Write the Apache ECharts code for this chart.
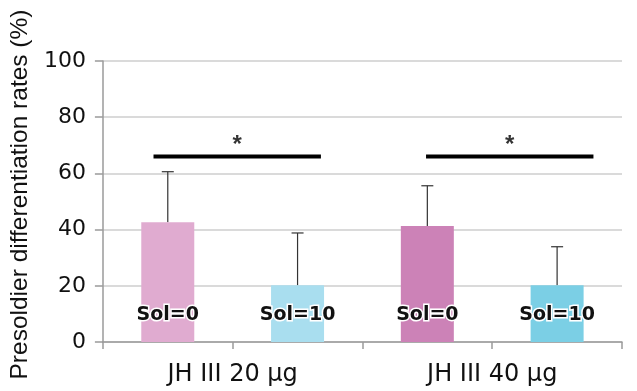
<!DOCTYPE html>
<html><head><meta charset="utf-8">
<script src="https://cdn.jsdelivr.net/npm/echarts@6/dist/echarts.min.js"></script>
<style>html,body{margin:0;padding:0;background:#fff}#c{width:637px;height:391px}</style>
</head><body><div id="c"></div>
<script>
var categories = ['Sol=0', 'Sol=10', 'Sol=0', 'Sol=10'];
var groupLabels = ['JH III 20 μg', 'JH III 40 μg'];
var means = [42.6, 20.2, 41.3, 20.2];
var upper = [60.6, 38.8, 55.6, 33.9];
var barColors = ['#e0abd0', '#a9deef', '#cc82b7', '#7bcfe5'];
var yTicks = [0, 20, 40, 60, 80, 100];
var sigLines = [[-0.11, 1.18, 66], [1.99, 3.28, 66]];
var stars = [[0.535, 69.8], [2.635, 69.8]];

var chart = echarts.init(document.getElementById('c'), null, {renderer: 'canvas'});
var series = [
  {
    type: 'bar', xAxisIndex: 0, yAxisIndex: 0, barWidth: 53,
    data: means.map(function (v, i) { return {value: v, itemStyle: {color: barColors[i]}}; }),
    label: {
      show: true, position: 'insideBottom', distance: 17,
      formatter: function (p) { return categories[p.dataIndex]; },
      fontFamily: 'DejaVu Sans', fontWeight: 'bold', fontSize: 19,
      color: '#111', textBorderColor: '#fff', textBorderWidth: 3
    },
    z: 2
  },
  {
    type: 'custom', xAxisIndex: 0, yAxisIndex: 0, z: 1,
    data: means.map(function (v, i) { return [i, v, upper[i]]; }),
    renderItem: function (params, api) {
      var base = api.coord([api.value(0), api.value(1)]);
      var top = api.coord([api.value(0), api.value(2)]);
      var half = 6;
      var st = {stroke: '#333', lineWidth: 1.2};
      return {type: 'group', children: [
        {type: 'line', shape: {x1: base[0], y1: base[1], x2: top[0], y2: top[1]}, style: st},
        {type: 'line', shape: {x1: top[0] - half, y1: top[1], x2: top[0] + half, y2: top[1]}, style: st}
      ]};
    }
  }
];
sigLines.forEach(function (s) {
  series.push({
    type: 'line', xAxisIndex: 2, yAxisIndex: 0, symbol: 'none', silent: true,
    data: [[s[0], s[2]], [s[1], s[2]]],
    lineStyle: {color: '#000', width: 4}, z: 5
  });
});
series.push({
  type: 'scatter', xAxisIndex: 2, yAxisIndex: 0, symbolSize: 1,
  itemStyle: {color: 'rgba(0,0,0,0)'},
  data: stars,
  label: {show: true, position: 'inside', formatter: '*', fontFamily: 'Liberation Sans',
    fontWeight: 'bold', fontSize: 24, color: '#000'},
  z: 5
});

chart.setOption({
  animation: false,
  grid: {left: 101, right: 15, top: 61, bottom: 49, containLabel: false},
  xAxis: [
    {
      type: 'category', data: categories, boundaryGap: true,
      axisLine: {lineStyle: {color: '#9a9a9a', width: 1.5}},
      axisTick: {show: true, length: 7, lineStyle: {color: '#9a9a9a', width: 1.5}},
      axisLabel: {show: false}, splitLine: {show: false}
    },
    {
      type: 'category', data: groupLabels, position: 'bottom', boundaryGap: true,
      axisLine: {show: false}, axisTick: {show: false},
      axisLabel: {show: true, margin: 21, fontFamily: 'DejaVu Sans', fontSize: 24, color: '#111'}
    },
    {type: 'value', min: -0.5, max: 3.5, show: false}
  ],
  yAxis: [{
    type: 'value', min: 0, max: 100, interval: 20,
    name: 'Presoldier differentiation rates (%)', nameLocation: 'middle', nameGap: 57,
    nameTextStyle: {fontFamily: 'Liberation Sans', fontSize: 24.5, color: '#111', padding: [0, 0, 0, 14]},
    axisLine: {show: true, onZero: false, lineStyle: {color: '#9a9a9a', width: 1.5}},
    axisTick: {show: true, length: 8, lineStyle: {color: '#9a9a9a', width: 1.5}},
    axisLabel: {fontFamily: 'DejaVu Sans', fontSize: 22, color: '#111', margin: 17,
      formatter: function (v) { return yTicks.indexOf(v) >= 0 ? String(v) : ''; }},
    splitLine: {show: true, lineStyle: {color: '#dadada', width: 2}}
  }],
  series: series
});
</script></body></html>
